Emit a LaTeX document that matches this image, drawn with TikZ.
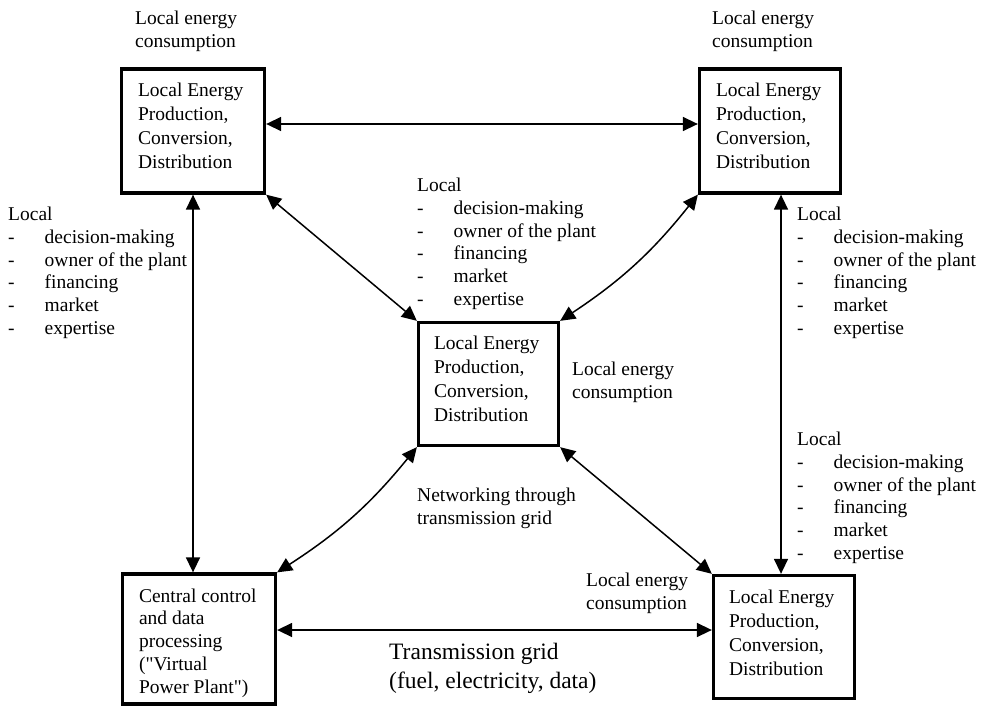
\documentclass[tikz,border=0pt]{standalone}
\usepackage{fontspec}
\setmainfont{Liberation Serif}
\usepackage{tikz}
\usetikzlibrary{arrows.meta,positioning,calc}
\newcommand{\dashitem}[1]{\makebox[36.5pt][l]{-}#1}

\begin{document}
\begin{tikzpicture}[x=1pt, y=-1pt,
        every node/.style={font=\fontsize{19.5}{22.7}\selectfont},
        plant/.style={draw, line width=3.3pt, inner sep=0pt},
        plantext/.style={anchor=north west, align=left, inner sep=0pt, font=\fontsize{19.5}{24}\selectfont},
        note/.style={anchor=north west, align=left, inner sep=0pt},
        link/.style={{Triangle[length=15pt,width=14pt]}-{Triangle[length=15pt,width=14pt]}, line width=1.5pt}]
        \useasboundingbox (0,0) rectangle (987,706);

        % plants
        \node (tl) [plant, minimum width=143pt, minimum height=124pt] at (193,131) {};
        \node (tr) [plant, minimum width=141pt, minimum height=124pt] at (770,131) {};
        \node (mid) [plant, minimum width=140pt, minimum height=123pt] at (488.5,384) {};
        \node (bl) [plant, minimum width=153pt, minimum height=130pt] at (199,639) {};
        \node (br) [plant, minimum width=141pt, minimum height=123pt] at (784,637) {};

        \node (tltext) [plantext, below right=15pt and 18pt of tl.north west] {Local Energy\\Production,\\Conversion,\\Distribution};
        \node (trtext) [plantext, below right=15pt and 18pt of tr.north west] {Local Energy\\Production,\\Conversion,\\Distribution};
        \node (midtext) [plantext, below right=15pt and 17pt of mid.north west] {Local Energy\\Production,\\Conversion,\\Distribution};
        \node (brtext) [plantext, below right=16pt and 17pt of br.north west] {Local Energy\\Production,\\Conversion,\\Distribution};
        \node (bltext) [plantext, below right=16pt and 18pt of bl.north west, font=\fontsize{19.5}{22.8}\selectfont] {Central control\\and data\\processing\\(\textquotedbl Virtual\\Power Plant\textquotedbl)};

        % labels
        \node (tlcons) [note] at (135,11) {Local energy\\consumption};
        \node (trcons) [note] at (712,11) {Local energy\\consumption};
        \node (midcons) [note] at (572,362) {Local energy\\consumption};
        \node (brcons) [note] at (586,573) {Local energy\\consumption};
        \node (net) [note] at (417,488) {Networking through\\transmission grid};
        \node (grid) [note, font=\fontsize{23.5}{29}\selectfont] at (389,643) {Transmission grid\\(fuel, electricity, data)};

        \node (leftlist) [note] at (8,207) {Local\\\dashitem{decision-making}\\\dashitem{owner of the plant}\\\dashitem{financing}\\\dashitem{market}\\\dashitem{expertise}};
        \node (midlist) [note] at (417,178) {Local\\\dashitem{decision-making}\\\dashitem{owner of the plant}\\\dashitem{financing}\\\dashitem{market}\\\dashitem{expertise}};
        \node (rightlist) [note] at (797,207) {Local\\\dashitem{decision-making}\\\dashitem{owner of the plant}\\\dashitem{financing}\\\dashitem{market}\\\dashitem{expertise}};
        \node (lowlist) [note] at (797,432) {Local\\\dashitem{decision-making}\\\dashitem{owner of the plant}\\\dashitem{financing}\\\dashitem{market}\\\dashitem{expertise}};

        % connectors
        \coordinate (toprow) at (0,124);
        \coordinate (botrow) at (0,630);
        \coordinate (rightcol) at (781,0);
        \draw [link] (tl.east |- toprow) -- (tr.west |- toprow);
        \draw [link] (bl.east |- botrow) -- (br.west |- botrow);
        \draw [link] (tl.south) -- (tl.south |- bl.north);
        \draw [link] (tr.south -| rightcol) -- (br.north -| rightcol);
        \draw [link] (tl.south east) -- (mid.north west);
        \draw [link] (tr.south west) to[bend left=9] (mid.north east);
        \draw [link] (mid.south west) to[bend left=9] (bl.north east);
        \draw [link] (mid.south east) -- (br.north west);
\end{tikzpicture}
\end{document}
